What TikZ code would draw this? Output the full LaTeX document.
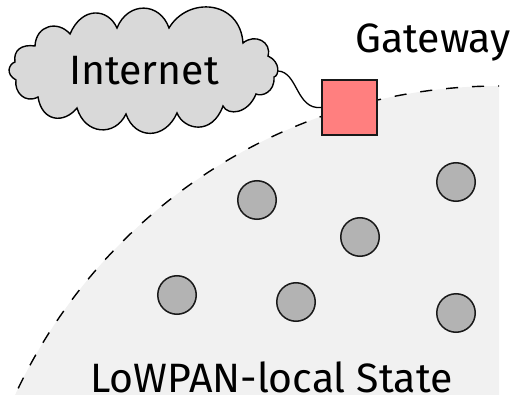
\documentclass[tikz,border=0pt]{standalone}
\usepackage{fontspec}
\setmainfont{Fira Sans}
\definecolor{cloudfill}{HTML}{D9D9D9}
\definecolor{regionfill}{HTML}{F1F1F1}
\definecolor{nodefill}{HTML}{B3B3B3}
\definecolor{gatewayfill}{HTML}{FF7F7F}
\tikzset{
  sensor/.style={circle,draw=black!90,line width=1.5pt,fill=nodefill,minimum size=38.5pt,inner sep=0pt},
  gatewaybox/.style={rectangle,draw=black!90,line width=1.5pt,fill=gatewayfill,minimum size=55pt,inner sep=0pt},
  label/.style={inner sep=0pt,anchor=base,text=black,font=\fontsize{41}{41}\selectfont},
  link/.style={draw=black,line width=1.3pt}
}
\begin{document}
\begin{tikzpicture}[x=1pt,y=-1pt]
\useasboundingbox (0,0) rectangle (516,395);
\fill[regionfill] (499,86) arc[start angle=270,end angle=204.9,radius=533.5] -- (15,395) -- (499,395) -- cycle;
\draw[line width=1.4pt,dash pattern=on 12pt off 14pt,dash phase=11pt] (499,86) arc[start angle=270,end angle=204.9,radius=533.5];
\draw[link,line width=1.4pt,fill=cloudfill,line join=miter]
  (35,46) .. controls (36,25) and (58,20) .. (70,34)
  .. controls (82,6) and (108,8) .. (117,28)
  .. controls (128,1) and (160,2) .. (169,28)
  .. controls (188,-4) and (240,0) .. (243,43)
  .. controls (255,33) and (272,42) .. (268,56)
  .. controls (281,62) and (279,76) .. (274,77)
  .. controls (275,92) and (262,97) .. (256,94)
  .. controls (248,114) and (228,116) .. (223,106)
  .. controls (212,136) and (184,130) .. (177,113)
  .. controls (165,140) and (135,140) .. (126,114)
  .. controls (115,137) and (85,135) .. (77,108)
  .. controls (64,124) and (42,122) .. (38,97)
  .. controls (25,104) and (14,92) .. (16,80)
  .. controls (5,74) and (9,64) .. (15,62)
  .. controls (13,50) and (22,44) .. (35,46) -- cycle;
\node[label] (internet) at (144,85) {Internet};
\coordinate (cloudport) at (278,71);
\node[gatewaybox] (gateway) at (349.5,107.5) {};
\draw[link] (cloudport) .. controls (298,72) and (296,110) .. (gateway.west);
\node[label] (gatewaylabel) at (433,52.5) {Gateway};
\node[sensor] (s1) at (257,200) {};
\node[sensor] (s2) at (360,237) {};
\node[sensor] (s3) at (456,182) {};
\node[sensor] (s4) at (177,295) {};
\node[sensor] (s5) at (296,302) {};
\node[sensor] (s6) at (456,313) {};
\node[label] (state) at (271.5,392) {LoWPAN-local State};
\end{tikzpicture}
\end{document}
